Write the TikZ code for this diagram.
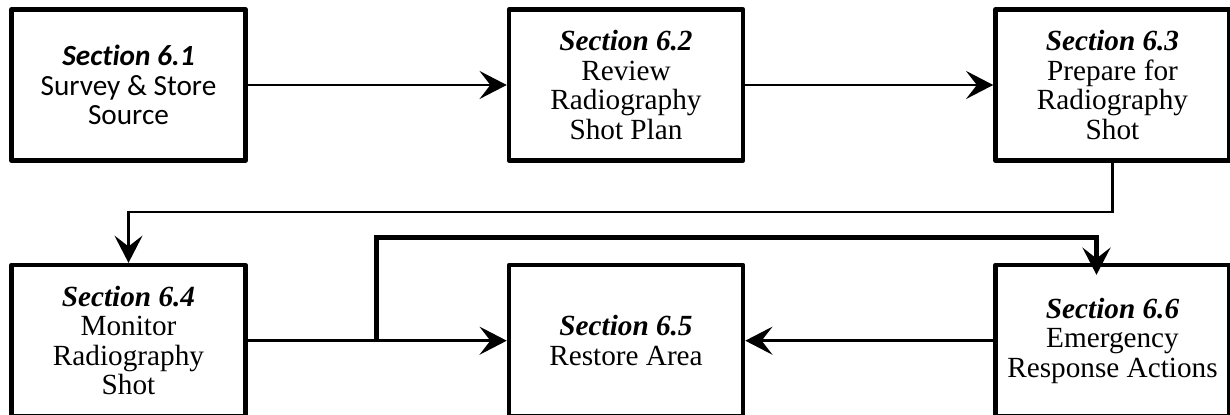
\documentclass[tikz,border=0pt]{standalone}
\usepackage{fontspec}
\setmainfont{Liberation Serif}
\newfontfamily\calibri[Ligatures=NoCommon]{Carlito}
\usepackage{tikz}
\usetikzlibrary{positioning, arrows.meta}
\newcommand{\boxfont}{\fontsize{20.8pt}{21pt}\selectfont}
\tikzstyle{process} = [rectangle, minimum width=5.85cm, minimum height=3.78cm, text centered, align=center, draw=black, line width=3.2pt, line join=round, fill=white, font=\boxfont]
\tikzstyle{arrow} = [line width=1.9pt, -{Stealth[length=0.68cm, width=0.7cm, inset=0.27cm]}]

\begin{document}
\begin{tikzpicture}[node distance=2.5cm]

    % Styles
    \tikzstyle{process} = [rectangle, minimum width=5.85cm, minimum height=3.78cm, text centered, align=center, draw=black, line width=3.2pt, line join=round, fill=white, font=\boxfont]
    \tikzstyle{arrow} = [line width=1.9pt, -{Stealth[length=0.68cm, width=0.7cm, inset=0.27cm]}]

    % Page frame (bottom row runs off the page)
    \useasboundingbox (-3.2125,-8.25) rectangle (27.5375,2.125);

    % Nodes
    \node (survey) [process, font=\boxfont\calibri] {\textbf{\textit{Section 6.1}}\\ Survey \& Store\\ Source};
    \node (review) [process, right=6.475cm of survey] {\textbf{\textit{Section 6.2}}\\ Review\\ Radiography\\ Shot Plan};
    \node (prepare) [process, right=6.2cm of review] {\textbf{\textit{Section 6.3}}\\ Prepare for\\ Radiography\\ Shot};
    \node (monitor) [process, below=of survey] {\textbf{\textit{Section 6.4}}\\ Monitor\\ Radiography\\ Shot};
    \node (restore) [process, right=6.475cm of monitor] {\textbf{\textit{Section 6.5}}\\ Restore Area};
    \node (emergency) [process, right=6.2cm of restore] {\textbf{\textit{Section 6.6}}\\ Emergency\\ Response Actions};

    % Arrows
    \draw [arrow] (survey) -- (review);
    \draw [arrow] (review) -- (prepare);
    \draw [arrow] (prepare.south) -- ++(0,-1.225) -| (monitor.north);
    \draw [arrow] (monitor) -- (restore);
    \draw [arrow] (emergency) -- (restore);

    % Emergency branch
    \coordinate [right=3.225cm of monitor] (branch);
    \draw [arrow, line width=3.6pt] (branch) -- ++(0,2.575) -| ([xshift=-0.4cm, yshift=-0.3cm]emergency.north);

\end{tikzpicture}
\end{document}
